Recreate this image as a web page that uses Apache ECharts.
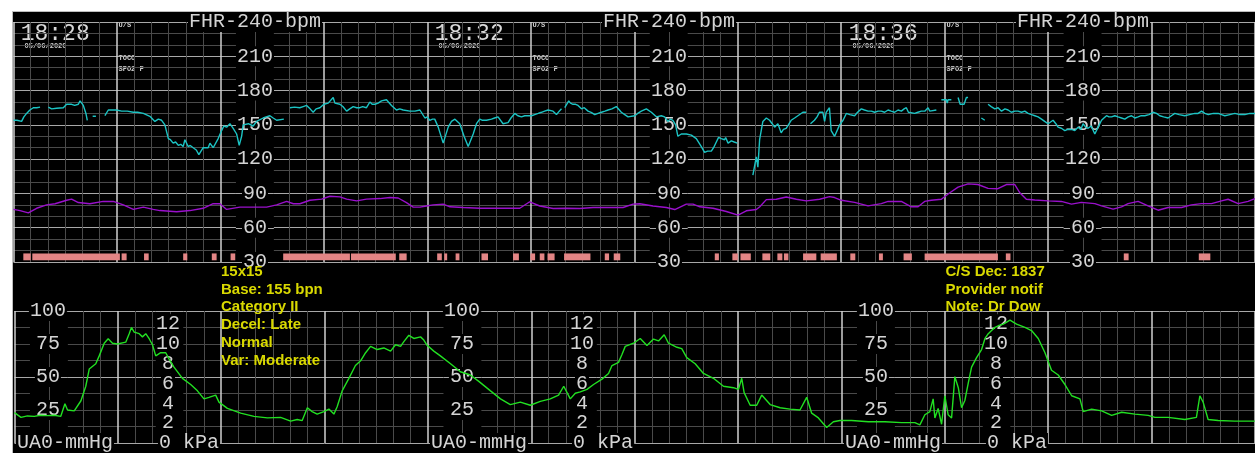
<!DOCTYPE html>
<html>
<head>
<meta charset="utf-8">
<title>CTG strip 18:28 - 18:40</title>
<script src="https://cdn.jsdelivr.net/npm/echarts@6/dist/echarts.min.js"></script>
<style>
  html, body { margin: 0; padding: 0; background: #fff; width: 1255px; height: 453px; overflow: hidden; }
  #monitor { position: absolute; left: 12px; top: 11px; width: 1242px; height: 441px;
             border-top: 1px solid #bdbdbd; border-left: 1px solid #bdbdbd; background: #000; overflow: hidden; }
  #chart { width: 1242px; height: 441px; }
</style>
</head>
<body>
<div id="monitor"><div id="chart"></div></div>
<script>
// ---- strip data (time in seconds from 18:28:00) ----
const SPAN = 720;                        // 12 minutes on screen
const clockLabels = ['18:28', '18:32', '18:36'];
const stripDate = '05/06/2020';
const channelTags = ['U/S', 'TOCO', 'SPO2 F'];
const fhrTicks = [30, 60, 90, 120, 150, 180, 210, 240];
const uaTicks = [25, 50, 75, 100];
const kpaTicks = [2, 4, 6, 8, 10, 12];
const uaZeroLabel = 'UA0-mmHg';
const kpaZeroLabel = '0 kPa';
const scaleColumns = [0, 240, 480];      // start of each 4-minute page

const notesLeft = ['15x15', 'Base: 155 bpn', 'Category II', 'Decel: Late', 'Normal', 'Var: Moderate'];
const notesRight = ['C/S Dec: 1837', 'Provider notif', 'Note: Dr Dow'];

// fetal heart rate (bpm); '-' marks signal loss
const fhrTrace = [
  [0,154],[2,154],[4.7,153],[6,157],[7.6,160],[9.5,163],[11.5,165],[13.5,165],[15.4,165.5],
  [17.8,'-'],
  [20.2,165.5],[22.1,164],[25,164.5],[28.9,165],[30.8,168],[33.7,168],[35.5,167],[37.6,168],[38.6,171],[40.5,167],[42,160],[42.8,154],
  [44.4,'-'],
  [45.9,157.5],[47.8,157.5],
  [50,'-'],
  [53,158],[55,163],[57,163],[59.8,163],[62.7,162],[66,162],[69.5,161],[72,161],[75.3,160],[79.1,157.5],[82,153],[84,155],[85.9,154],[87.8,150],[89.8,138],[91,137],[92.6,134],[94,135],[95.6,132],[97,133],[98.4,131],[99.4,137],[101.3,131],[102.5,132],[104.2,130],[106,128],[107.5,124],[110,130],[112.9,130],[113.9,134],[115.8,130],[118.7,138],[120.7,145],[122,149],[123.6,148],[125.5,151],[127.4,147],[129.4,142],[130.9,132],[132.3,140],[133.2,150],[136.2,151],[139,149],[141,153],[144.8,156],[146.5,157],[148.7,158],[150.6,156],[152.6,154],[156.8,155],
  [158.5,'-'],
  [160.3,165],[163,165.5],[166,165],[168,166],[170,167],[172,164],[173.8,161],[175.5,164],[177.7,165],[180,168],[182.5,169],[185.4,174],[186.4,169],[189.3,168],[191,166],[193.2,162],[195,164],[197,166],[199,165],[200.9,165],[202.5,166],[204.7,165],[206.7,170],[208,168],[209.6,168],[211.5,169],[213.4,171],[216.3,172],[219.2,167],[222.1,163],[224,164],[226,163],[229.9,162],[232.8,162],[235.7,163],
  [238.6,156],[240,157],[241.4,154],[243,155],[244.3,155],[246.3,148],[249.2,134],[252.1,148],[254,153],[256,155],[258.8,151],[261.3,140],[263.7,131],[266.6,142],[268.5,151],[270.4,155],[272,154],[274.3,154],[277.2,155],[279,156],[281,157],[283.9,151],[286.8,152],[288.5,156],[290.7,160],[292.5,158],[294.6,157],[296.5,158],[298.4,158],[300.4,158],[302.3,159],[304.3,160],[306.2,161],[308,162],[310,163],[312.9,162],[314.9,159],[316.5,162],[317.8,164],
  [318.6,'-'],
  [319.7,165],[322,171],[323,169],[324.5,168],[326,168],[327.4,167],[329.4,164],[331,165],[333.2,162],[335,161],[337.1,159],[339,160],[341,161],[343,162],[344.8,163],[347,164],[349.6,166],[352.5,161],[354.5,159],[356.4,157],[360.3,158],[362,160],[364.1,162],[367,164],[369.9,161],[372.8,157],[375.7,158],[377.6,157],[379.5,153],[381,155],[382.4,154],[384,150],[385.3,140],[387.3,142],[390.2,142],[393.1,141],[396,138],[398.9,131],[400.8,126],[402.5,127],[404.7,127],[406,130],[407.6,135],[408.9,139],[410.5,138],[412.4,137],[413,139],[414.4,134],[416.3,136],[418,135],[419.8,134],
  [424,'-'],
  [428.8,106],[429.8,114],[430.8,122],[431.7,113],[432.7,137],[434.6,153],[436.6,156],[438.5,154],[440,151],[441.4,148],[443.3,151],[445.2,143],[446.5,146],[448.1,147],[451,154],[453,156],[454.9,158],[457.8,161],[459.7,161],
  [461,'-'],
  [462.2,151],[464.5,154],[466,157],[467.4,161],[469.4,161],[470.4,153],[471.3,161],[473.2,165],[474.2,145],[476.2,140],[479.1,150],[481.1,154],[483,160],[485,159],[487.8,158],[489.5,161],[491.7,164],[493.5,163],[495.6,162],[497.5,162],[499.4,161],[501.4,162],[503.3,162],[505.2,161],[507.2,163],[509,162],[511,161],[513,163],[514.9,162],[516.5,164],[517.8,165],[519,161],[520,160],[522.6,160],[524.5,161],[526.5,162],[528.5,162],[530.4,165],[531.4,162],[532.3,163],[535.2,163],
  [536.6,'-'],
  [538.1,172],[541,172],[541.5,169],[542,172],[543.9,172],
  [545.8,'-'],
  [547.8,174],[549,168],[551.3,168],[552.6,174],[553.6,174],
  [557,'-'],
  [561.3,156],[563.3,154],
  [564.2,'-'],
  [565.2,168],[567,166],[569.1,164],[571,165],[573,162],[575,164],[576.8,163],[578.7,161],[580.7,162],[582.6,162],[584.6,161],[586.5,162],[588.4,160],[590.4,159],[592.3,158],[594.2,157],[596.2,155],[598,153],[600,151],[602.9,154],[604.5,151],[605.8,148],[607.7,147],[609.7,145],[611.5,146],[613.6,146],[615.5,145],[617.4,148],[619,146],[620.3,151],[621.8,148],[623.2,147],[625,149],[627.1,142],[629,148],[631,154],[632.4,156],[633.9,158],[635.3,157],[636.8,157],[638.7,158],[640.6,157],[642.6,156],[644.5,155],[646.5,157],[648.4,158],[650.3,156],[652.2,157],[654,158],[656.1,158],[658.5,159],[660.9,161],[662.9,160],[664.8,158],[667,157],[669.6,156],[671.5,158],[673.5,160],[676,159],[679.3,158],[682,159],[685.1,160],[687,160],[689,162],[690.9,160],[692.9,159],[695.8,160],[698.7,160],[700.6,159],[702.5,158],[705.4,159],[708.3,160],[711.2,159],[714.1,159],[717,160],[720,160]
];

// maternal heart rate (bpm)
const mhrTrace = [
  [0,76],[3.8,75],[8.6,73],[13.4,77],[19.2,80],[24.1,81],[30.8,84],[33.7,85],[37.6,82],[44.3,81],[52,83],[57.9,83],[63.7,80],[69.5,76],[75.3,78],[81,76],[84.9,75],[94.6,74],[102.3,75],[110,77],[115.8,81],[119.7,81],[123.6,76],[131.3,78],[146.8,78],[152.6,80],[158.4,83],[162.3,81],[166.1,81],[171.9,84],[178.7,85],[183.5,87.5],[189.3,87],[193.2,85],[199,83.5],[204.7,85],[212.5,85.5],[218.3,86.4],[223.1,86],[227.9,82],[231.8,78],[235.7,78],
  [239.5,79],[243.4,80],[249.2,80.6],[253.1,78.3],[260.8,77.7],[270.5,77],[280.1,77],[289.8,77],[293.6,77],[299.4,82.7],[305.2,79],[313,76.8],[320.7,77],[328.4,76.8],[336.1,77.7],[343.9,77.7],[353.5,77.7],[359.3,80.6],[363.2,81],[370.9,79],[378.6,77.7],[383.5,75.9],[390.2,80.6],[394.1,80.6],[398,78.3],[405.7,77],[413.4,74.2],[420.2,71],[425,74.8],[430.8,75.9],[432.8,78.3],[436.6,84.6],[442.4,84.9],[448.2,86.9],[454,84.9],[459.8,83.5],[467.5,84.9],[473.3,87.2],
  [476.2,86.4],[480.1,84],[487.8,82.2],[495.6,79.1],[503.3,81.1],[507.2,83],[514.9,83],[520.7,78.3],[524.6,78.3],[528.4,83],[532.3,84],[538.1,84.9],[543,90.6],[547.8,95.5],[553.6,98.4],[559.3,97.8],[565.2,94.4],[570.9,94.1],[575.8,97.8],[580.7,97.8],[583.6,90.6],[587.4,84.9],[592.3,84.3],[600,83.5],[607.7,83],[613.6,80.6],[619.3,82.2],[627.1,81.1],[631,79.1],[637.7,76.2],[642.6,78.3],[646.4,81.1],[652.2,83],[658,79.1],[663.8,75.3],[669.6,77.7],[677.4,77.7],[683.1,80],[689,81.1],[694.8,81.1],[700.6,83.5],[704.4,84.9],[710.2,81.1],[716,83],[720,85.5]
];

// movement / event marks (start s, end s)
const eventMarks = [
  [5.7,10],[10.9,61.7],[62.7,65.6],[75.7,78.4],[98.4,100.8],[115,117.8],[125.9,128.6],[156.4,195.1],[195.7,221.7],[223.7,228],
  [245.7,248.4],[249.8,251.5],[256.4,258.6],[271.4,275.2],[289.7,293.1],[299.8,302.5],[305.2,307.9],[309.7,313.8],[319.3,334.6],
  [342.9,345.4],[348.1,351.9],[376.3,380.2],[406.7,409.1],[416.9,420.1],[421.6,427.6],[434.3,438.9],[443,445.9],[446.8,449.4],
  [457.9,465.6],[468.1,477.5],[485.3,488.2],[501.9,504.2],[516.2,521],[528.4,570.9],[575.5,578.2],[618.7,622.6],[643.9,646.7],[687.4,694.1]
];

// uterine activity (mmHg)
const uaTrace = [
  [0,23],[3.8,19.4],[7.5,20.5],[11.5,20.2],[15,21],[19.2,20.7],[23,21],[26.9,20.2],[29.3,29.8],[30.8,25],[34.7,24.3],[38.6,32],[41.4,43],[43.4,56],[47.2,60],[49.2,66],[52.1,75.6],[54.4,79],[56.9,75.6],[59.8,75],[64.6,76.4],[66.6,82.8],[67.9,87.6],[69.5,84],[72.4,82.8],[74.3,80.4],[76.2,82.8],[78.2,79],[80.1,74.4],[82,66],[84.9,68.4],[87.8,68.4],[89.8,63.5],[92.6,57.5],[97.5,49],[102.3,44.3],[106.2,39.5],[110,33.4],[112.9,34.6],[116.8,36.3],[118.7,31],[123.6,26.2],[131.3,22.6],[139,20.2],[146.8,19],[154.5,19.4],[160.3,16.6],[164.1,17.8],[167,17],[170,26.7],[172.8,23.8],[175.7,21.9],[179.6,23.8],[182.5,25.7],[185.4,21.9],[187.3,27.4],[190.2,39.5],[194.1,49],[197.9,58.7],[200.9,62.3],[203.8,68.4],[206.7,73.2],[210.5,70.8],[214.4,72],[218.3,69.6],[221.2,74.4],[224.1,73.2],[226,76.8],[228.9,81.6],[231.8,79.2],[235.7,80.4],
  [237.6,78],[239.5,74],[243.4,69.6],[247.2,66],[253.1,60],[258.8,54],[264.6,51.5],[269.5,46.7],[276.3,39.5],[282.1,33.4],[287.8,29.1],[293.6,31],[299.4,28.6],[305.2,31.5],[311,33.4],[315.8,36.3],[318.8,43],[322.6,33.4],[325.5,37.7],[328.4,38.7],[332.3,40.6],[336.1,44.3],[341,48.4],[344.8,52.7],[346.8,58.7],[350.6,61.1],[352.6,67.1],[354.5,73.2],[359.3,75.6],[363.2,79.2],[367.1,73.9],[370.9,78.7],[373.8,77.3],[377.1,82],[379.6,75.6],[384.5,72.5],[387.3,71.5],[390.2,64.7],[395.1,60],[399.9,52.7],[405.7,49],[411.5,43],[417.3,41.9],[420.2,40.6],[422.1,49],[423.5,38.2],[427,28.6],[430.8,28.6],[433.7,36.3],[438.6,29.1],[444.4,26.7],[450.1,25.7],[455.9,25],[459.8,34.6],[462.7,22.6],[466.6,19],[471.4,11.8],[475.3,16.1],
  [479.1,17],[485.9,17],[495.6,16.1],[505.2,16.1],[514.9,15.4],[522.6,15.4],[525.5,13.7],[528.4,21.4],[531.3,23.8],[533.2,33.4],[534.2,19],[536.1,26.2],[538.1,14.2],[540,35.8],[541.9,21.4],[543.9,19],[545.8,50.3],[547.8,41.9],[549.7,26.7],[551.6,32.2],[553.6,45.5],[555.5,57.5],[558.4,64.7],[561.3,70.8],[563.3,79.2],[565.2,82.8],[567.1,85.2],[569.1,87.6],[571,88.8],[573.9,90],[577.8,93.1],[581.6,90],[586.5,87.6],[590.3,85.2],[594.2,79.2],[598.1,68.4],[601.9,55.1],[605.8,51.5],[609.7,44.3],[613.6,35.8],[618.4,33.4],[620.3,23.8],[625.2,25.7],[631,24.3],[636.8,20.9],[642.6,23.3],[650.3,21.9],[658,20.9],[661.9,19.4],[669.6,19.4],[679.3,17.8],[686,19.4],[688,35.8],[689.9,31],[692.8,17.8],[698.6,17],[708.3,16.6],[719.9,16.6]
];

// ---- layout ----
const GRID_W = 1242;
const FHR_GRID = { left: 0.5, top: 7, width: GRID_W, height: 243 };
const UA_GRID = { left: 0.5, top: 299, width: GRID_W, height: 138.5 };
const px = t => t * GRID_W / SPAN;
const MMHG_PER_KPA = 7.50062;
const KPA_MAX = 100 / MMHG_PER_KPA;

const SCALE_FONT = { color: '#d4d4d4', fontFamily: '"Liberation Mono", monospace', fontSize: 20 };
const MAJOR_V = '#d0d0d0', MINOR = '#4a4a4a', MAJOR_H = '#a8a8a8';

function timeAxis(gridIndex) {
  return {
    type: 'value', gridIndex, min: 0, max: SPAN, interval: 60,
    axisLine: { show: false }, axisTick: { show: false }, axisLabel: { show: false },
    splitLine: { show: true, lineStyle: { color: MAJOR_V, width: 1.5 } },
    minorTick: { show: false, splitNumber: 6 },
    minorSplitLine: { show: true, lineStyle: { color: MINOR, width: 1 } }
  };
}

function valueAxis(gridIndex, min, max, interval, minorSplit) {
  return {
    type: 'value', gridIndex, min, max, interval,
    axisLine: { show: false }, axisTick: { show: false }, axisLabel: { show: false },
    splitLine: { show: true, lineStyle: { color: MAJOR_H, width: 1 } },
    minorTick: { show: false, splitNumber: minorSplit },
    minorSplitLine: { show: true, lineStyle: { color: MINOR, width: 1 } }
  };
}

// scale numbers printed inside the strip at a given time column
function scaleAxis(gridIndex, min, max, interval, t, fmt, align) {
  return {
    type: 'value', gridIndex, min, max, interval, position: 'left', offset: -px(t), z: 5,
    axisLine: { show: false }, axisTick: { show: false }, splitLine: { show: false },
    axisLabel: Object.assign({
      show: true, margin: 0, align: align || 'center', formatter: fmt,
      backgroundColor: '#000', padding: [0, 1]
    }, SCALE_FONT)
  };
}

const pick = (ticks, text) => v => {
  const k = Math.round(v);
  if (Math.abs(v - k) > 1e-6 || ticks.indexOf(k) < 0) return '';
  return text ? text(k) : String(k);
};
const fhrFmt = pick(fhrTicks, k => k === 240 ? 'FHR-240-bpm' : String(k));
const uaFmt = pick(uaTicks);
const kpaFmt = pick(kpaTicks);
const uaZeroFmt = v => (v === 0 ? uaZeroLabel : '');
const kpaZeroFmt = v => (v === 0 ? kpaZeroLabel : '');

const xAxes = [timeAxis(0), timeAxis(1)];
const yAxes = [valueAxis(0, 30, 240, 30, 3)];
scaleColumns.forEach(t0 => yAxes.push(scaleAxis(0, 30, 240, 30, t0 + 140, fhrFmt)));
yAxes.push(valueAxis(1, 0, 100, 50, 4));
const UA_Y = yAxes.length - 1;
scaleColumns.forEach(t0 => {
  yAxes.push(scaleAxis(1, 0, 100, 25, t0 + 19.4, uaFmt));
  yAxes.push(scaleAxis(1, 0, 100, 25, t0 + 0.9, uaZeroFmt, 'left'));
  yAxes.push(scaleAxis(1, 0, KPA_MAX, 2, t0 + 89, kpaFmt));
  yAxes.push(scaleAxis(1, 0, KPA_MAX, 2, t0 + 83.2, kpaZeroFmt, 'left'));
});

// black band behind a column of scale numbers, keeping the column's own rules
function maskSeries(xi, yi, cols, yTop, yBottom, rules) {
  return {
    type: 'custom', xAxisIndex: xi, yAxisIndex: yi, z: 1, silent: true,
    data: cols,
    renderItem(params, api) {
      const t = api.value(0), half = api.value(1);
      const a = api.coord([t - half, yTop]);
      const b = api.coord([t + half, yBottom]);
      const cx = Math.round(api.coord([t, yTop])[0]) + 0.5;
      const kids = [
        { type: 'rect', shape: { x: a[0], y: a[1], width: b[0] - a[0], height: b[1] - a[1] }, style: { fill: '#000' } },
        { type: 'line', shape: { x1: cx, y1: a[1], x2: cx, y2: b[1] }, style: { stroke: MINOR, lineWidth: 1 } }
      ];
      rules.forEach(v => {
        const p = api.coord([t - half, v]), q = api.coord([t + half, v]);
        const y = Math.round(p[1]) + 0.5;
        kids.push({ type: 'line', shape: { x1: p[0], y1: y, x2: q[0], y2: y }, style: { stroke: MAJOR_H, lineWidth: 1 } });
      });
      return { type: 'group', children: kids };
    }
  };
}

const markSeries = {
  type: 'custom', xAxisIndex: 0, yAxisIndex: 0, z: 2, silent: true,
  data: eventMarks,
  renderItem(params, api) {
    const a = api.coord([api.value(0), 37.5]);
    const b = api.coord([api.value(1), 31.5]);
    return { type: 'rect', shape: { x: a[0], y: a[1], width: b[0] - a[0], height: b[1] - a[1] }, style: { fill: '#e38585' } };
  }
};

function trace(name, data, xi, yi, color) {
  return {
    name, type: 'line', data, xAxisIndex: xi, yAxisIndex: yi, z: 6,
    showSymbol: false, symbol: 'none', connectNulls: false, silent: true,
    lineStyle: { color, width: 1.4 }
  };
}

// free text on the strip: clocks, channel tags and clinical notes
const graphics = [];
scaleColumns.forEach((t0, i) => {
  const x0 = FHR_GRID.left + px(t0);
  graphics.push({ type: 'text', x: x0 + 7.2, y: 21.5, silent: true,
    style: { text: clockLabels[i], fill: '#d8d8d8', font: '23px "Liberation Mono", monospace', textVerticalAlign: 'middle' } });
  graphics.push({ type: 'text', x: x0 + 11, y: 34, silent: true,
    style: { text: stripDate, fill: '#cfcfcf', font: 'bold 7px "Liberation Mono", monospace', textVerticalAlign: 'middle' } });
  const xt = FHR_GRID.left + px(t0 + 60) + 1.5;
  [13, 46.5, 57.5].forEach((y, k) => graphics.push({ type: 'text', x: xt, y, silent: true,
    style: { text: channelTags[k], fill: '#cfcfcf', font: 'bold 7px "Liberation Mono", monospace', textVerticalAlign: 'middle' } }));
});
const NOTE_FONT = 'bold 15px "Liberation Sans", Arial, sans-serif';
notesLeft.forEach((s, k) => graphics.push({ type: 'text', x: FHR_GRID.left + px(120) + 0.5, y: 259.7 + k * 17.8, silent: true, z: 10,
  style: { text: s, fill: '#d9d900', font: NOTE_FONT, textVerticalAlign: 'middle' } }));
notesRight.forEach((s, k) => graphics.push({ type: 'text', x: FHR_GRID.left + px(540) + 0.5, y: 259.7 + k * 17.8, silent: true, z: 10,
  style: { text: s, fill: '#d9d900', font: NOTE_FONT, textVerticalAlign: 'middle' } }));

const chart = echarts.init(document.getElementById('chart'), null, { renderer: 'canvas' });
chart.setOption({
  backgroundColor: '#000',
  animation: false,
  grid: [FHR_GRID, UA_GRID],
  xAxis: xAxes,
  yAxis: yAxes,
  series: [
    maskSeries(0, 0, scaleColumns.map(t0 => [t0 + 140, 11]), 240, 30, fhrTicks),
    maskSeries(1, UA_Y, scaleColumns.map(t0 => [t0 + 20, 11]), 100, 0, [0, 50, 100]),
    maskSeries(1, UA_Y, scaleColumns.map(t0 => [t0 + 90, 8]), 100, 0, [0, 50, 100]),
    markSeries,
    trace('MHR', mhrTrace, 0, 0, '#9a10cc'),
    trace('FHR', fhrTrace, 0, 0, '#1cc4c4'),
    trace('UA', uaTrace, 1, UA_Y, '#22e022')
  ],
  graphic: { elements: graphics }
});
</script>
</body>
</html>
